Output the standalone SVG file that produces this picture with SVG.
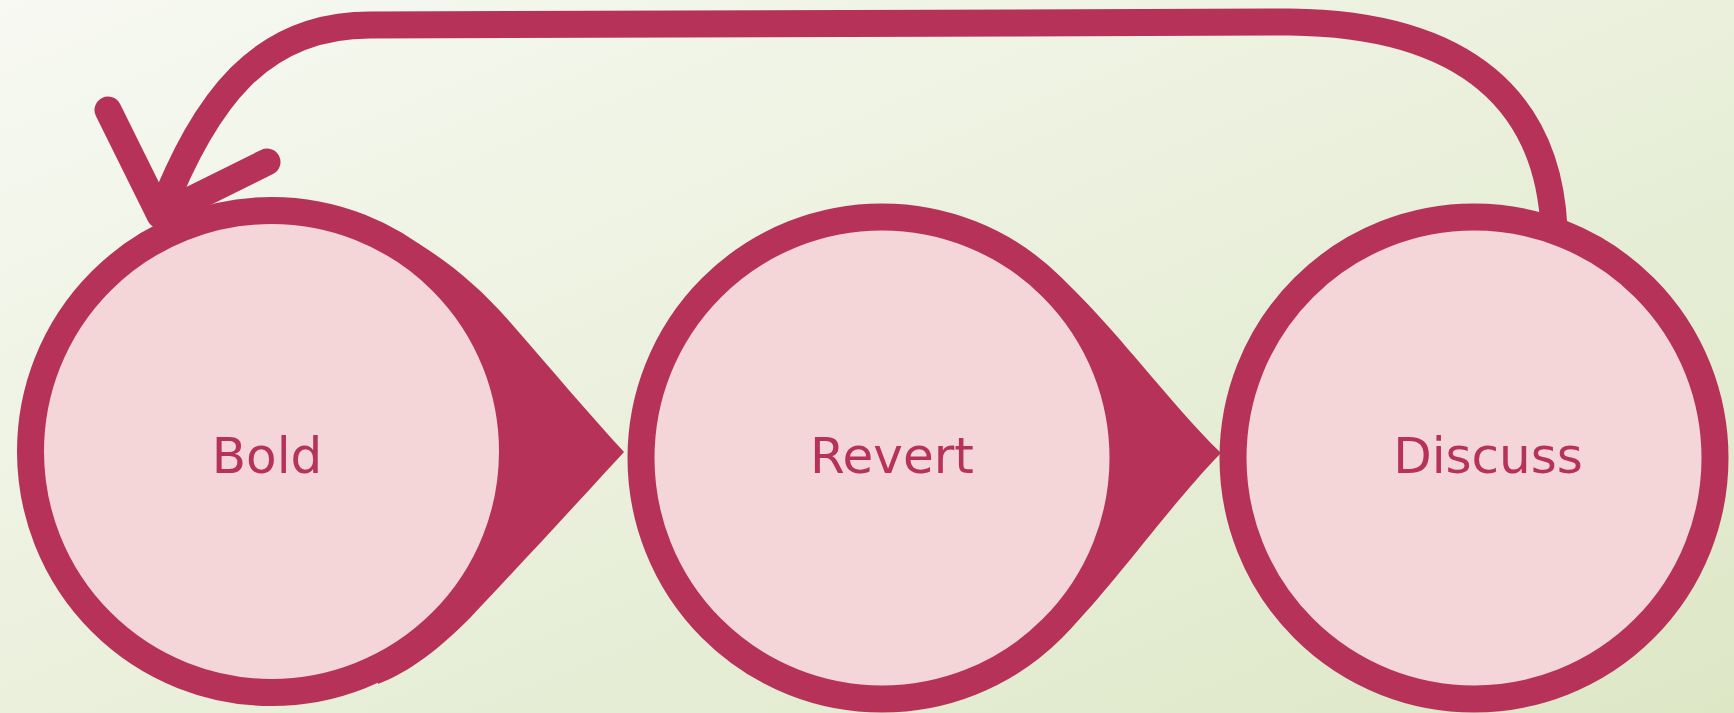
<svg xmlns="http://www.w3.org/2000/svg" width="1734" height="713" viewBox="0 0 1734 713">
  <defs>
    <linearGradient id="bg" x1="0" y1="0" x2="1" y2="1">
      <stop offset="0" stop-color="#F7F9F2"/>
      <stop offset="1" stop-color="#DDE7C6"/>
    </linearGradient>
    <style>
      .node { fill: #F4D6D8; stroke: #B63259; stroke-width: 27; }
      .label { font-family: "DejaVu Sans", "Liberation Sans", sans-serif; font-size: 50px; fill: #B63259; text-anchor: middle; }
      .wedge { fill: #B63259; stroke: none; }
      .line { fill: none; stroke: #B63259; stroke-width: 27; }
      .head { fill: none; stroke: #B63259; stroke-width: 27; stroke-linecap: round; stroke-linejoin: round; }
    </style>
  </defs>
  <rect x="0" y="0" width="1734" height="713" fill="url(#bg)"/>
  <g id="connectors">
    <path class="wedge" d="M 405 236 C 440 255, 475 282, 510 322 C 550 368, 590 415, 624 452 C 580 500, 520 565, 470 618 C 440 648, 410 672, 378 684 Z"/>
    <path class="wedge" d="M 1022 247 C 1065 275, 1105 322, 1140 363 C 1170 398, 1195 428, 1221 453 C 1170 505, 1110 590, 1067 632 Z"/>
    <path class="line" d="M 1554 228 C 1548 105, 1470 24, 1290 22 L 370 25 C 260 25, 205 100, 160 215"/>
    <path class="head" d="M 108 110 L 160 215 L 267 162"/>
  </g>
  <g id="node-bold">
    <circle class="node" cx="271.5" cy="451.5" r="241"/>
    <text class="label" x="267" y="473">Bold</text>
  </g>
  <g id="node-revert">
    <circle class="node" cx="882" cy="458" r="241"/>
    <text class="label" x="892" y="473">Revert</text>
  </g>
  <g id="node-discuss">
    <circle class="node" cx="1474" cy="458" r="241"/>
    <text class="label" x="1488" y="473">Discuss</text>
  </g>
</svg>
